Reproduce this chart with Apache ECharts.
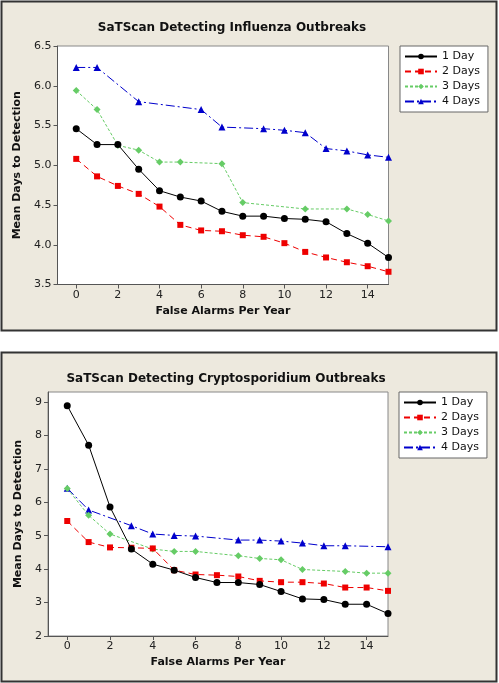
<!DOCTYPE html>
<html>
<head>
<meta charset="utf-8">
<script src="https://cdn.jsdelivr.net/npm/echarts@6/dist/echarts.min.js"></script>
<style>
html,body{margin:0;padding:0;background:#fff;}
#c{width:499px;height:683px;}
</style>
</head>
<body>
<div id="c"></div>
<script>
// ---- Data ----
const seriesNames = ['1 Day', '2 Days', '3 Days', '4 Days'];
const xTicks = [0, 2, 4, 6, 8, 10, 12, 14];

// Influenza (top chart)
const fluX1 = [0,1,2,3,4,5,6,7,8,9,10,11,12,13,14,15];
const fluY1 = [5.46,5.26,5.26,4.95,4.68,4.60,4.55,4.42,4.36,4.36,4.33,4.32,4.29,4.14,4.02,3.84];
const fluX2 = [0,1,2,3,4,5,6,7,8,9,10,11,12,13,14,15];
const fluY2 = [5.08,4.86,4.74,4.64,4.48,4.25,4.18,4.17,4.12,4.10,4.02,3.91,3.84,3.78,3.73,3.66];
const fluX3 = [0,1,2,3,4,5,7,8,11,13,14,15];
const fluY3 = [5.94,5.70,5.25,5.19,5.04,5.04,5.02,4.53,4.45,4.45,4.38,4.30];
const fluX4 = [0,1,3,6,7,9,10,11,12,13,14,15];
const fluY4 = [6.23,6.23,5.80,5.70,5.48,5.46,5.44,5.41,5.21,5.18,5.13,5.10];
const fluYTicks = [3.5,4.0,4.5,5.0,5.5,6.0,6.5];

// Cryptosporidium (bottom chart)
const cryX1 = [0,1,2,3,4,5,6,7,8,9,10,11,12,13,14,15];
const cryY1 = [8.89,7.71,5.86,4.60,4.15,3.97,3.75,3.60,3.60,3.54,3.33,3.11,3.09,2.95,2.95,2.67];
const cryX2 = [0,1,2,3,4,5,6,7,8,9,10,11,12,13,14,15];
const cryY2 = [5.44,4.81,4.65,4.64,4.62,3.97,3.84,3.82,3.78,3.65,3.61,3.61,3.57,3.45,3.45,3.35];
const cryX3 = [0,1,2,4,5,6,8,9,10,11,13,14,15];
const cryY3 = [6.41,5.61,5.05,4.60,4.53,4.53,4.40,4.32,4.28,3.99,3.93,3.88,3.88];
const cryX4 = [0,1,3,4,5,6,8,9,10,11,12,13,15];
const cryY4 = [6.42,5.77,5.30,5.05,5.01,4.99,4.87,4.87,4.84,4.78,4.70,4.70,4.67];
const cryYTicks = [2,3,4,5,6,7,8,9];

// ---- Styles ----
const FONT = 'DejaVu Sans';
const BG = '#EDE9DE';
const colors = ['#000000', '#EE0000', '#66CC66', '#0000CC'];
const symbols = ['circle', 'rect', 'diamond', 'triangle'];
const symSizes = [7, 6, 7, 7];
const dashes = ['solid', [6, 4], [3, 2], [9, 3, 2, 3]];

function pairs(xs, ys) { return xs.map((x, i) => [x, ys[i]]); }

function makeSeries(gi, sets) {
  return sets.map((s, i) => ({
    name: seriesNames[i],
    type: 'line',
    xAxisIndex: gi, yAxisIndex: gi,
    data: pairs(s[0], s[1]),
    symbol: symbols[i],
    symbolSize: symSizes[i],
    showAllSymbol: true,
    itemStyle: { color: colors[i] },
    lineStyle: { color: colors[i], width: 1, type: dashes[i] },
    emphasis: { disabled: true },
    animation: false,
    z: 10 - i
  }));
}

function xAxis(gi) {
  return {
    type: 'value', gridIndex: gi, min: -0.9, max: 15,
    name: 'False Alarms Per Year', nameLocation: 'middle', nameGap: 21,
    nameTextStyle: { fontFamily: FONT, fontWeight: 'bold', fontSize: 11, color: '#111' },
    axisLine: { show: true, onZero: false, lineStyle: { color: '#555', width: 1 } },
    axisTick: { show: true, length: 4, lineStyle: { color: '#555' }, customValues: xTicks },
    axisLabel: { fontFamily: FONT, fontSize: 11, color: '#222', margin: 5, customValues: xTicks },
    splitLine: { show: false }
  };
}

function yAxis(gi, min, max, ticks, dec, gap) {
  return {
    type: 'value', gridIndex: gi, min: min, max: max,
    name: 'Mean Days to Detection', nameLocation: 'middle', nameGap: gap,
    nameTextStyle: { fontFamily: FONT, fontWeight: 'bold', fontSize: 11, color: '#111' },
    axisLine: { show: true, onZero: false, lineStyle: { color: '#555', width: 1 } },
    axisTick: { show: true, length: 4, lineStyle: { color: '#555' }, customValues: ticks },
    axisLabel: { fontFamily: FONT, fontSize: 11, color: '#222', margin: 6, customValues: ticks,
      formatter: v => dec ? v.toFixed(1) : String(v) },
    splitLine: { show: false }
  };
}

function legend(top, left) {
  return {
    data: seriesNames, orient: 'vertical', left: left, top: top,
    backgroundColor: '#fff', borderColor: '#666', borderWidth: 1,
    padding: [5, 8, 5, 4], itemGap: 4, itemWidth: 32, itemHeight: 7,
    textStyle: { fontFamily: FONT, fontSize: 11, color: '#111' },
    selectedMode: false
  };
}

const chart = echarts.init(document.getElementById('c'), null, { renderer: 'canvas' });
chart.setOption({
  backgroundColor: '#fff',
  animation: false,
  graphic: [
    { type: 'rect', z: -10, shape: { x: 1.5, y: 1.5, width: 495, height: 329 },
      style: { fill: BG, stroke: '#333', lineWidth: 2 } },
    { type: 'rect', z: -10, shape: { x: 1.5, y: 352.5, width: 495, height: 329 },
      style: { fill: BG, stroke: '#333', lineWidth: 2 } }
  ],
  title: [
    { text: 'SaTScan Detecting Influenza Outbreaks', left: 227, top: 17, textAlign: 'center',
      textStyle: { fontFamily: FONT, fontWeight: 'bold', fontSize: 12, color: '#111' } },
    { text: 'SaTScan Detecting Cryptosporidium Outbreaks', left: 221, top: 368, textAlign: 'center',
      textStyle: { fontFamily: FONT, fontWeight: 'bold', fontSize: 12, color: '#111' } }
  ],
  legend: [legend(46, 400), legend(392, 399)],
  grid: [
    { left: 57.5, top: 46, width: 331, height: 238.5, show: true, backgroundColor: '#fff', borderColor: '#888', borderWidth: 1 },
    { left: 48, top: 392, width: 340, height: 244, show: true, backgroundColor: '#fff', borderColor: '#888', borderWidth: 1 }
  ],
  xAxis: [xAxis(0), xAxis(1)],
  yAxis: [yAxis(0, 3.5, 6.5, fluYTicks, true, 26), yAxis(1, 2, 9.3, cryYTicks, false, 17)],
  series: [].concat(
    makeSeries(0, [[fluX1, fluY1], [fluX2, fluY2], [fluX3, fluY3], [fluX4, fluY4]]),
    makeSeries(1, [[cryX1, cryY1], [cryX2, cryY2], [cryX3, cryY3], [cryX4, cryY4]])
  )
});
</script>
</body>
</html>
